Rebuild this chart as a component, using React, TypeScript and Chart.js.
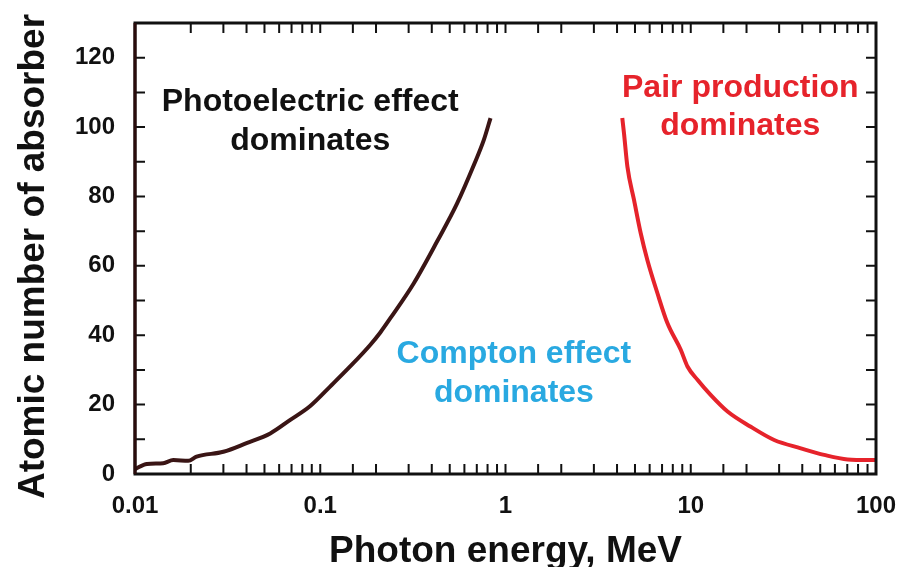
import React, { useEffect, useRef } from "react";
import { Chart, registerables } from "chart.js";

Chart.register(...registerables);

// Photoelectric / Compton boundary (MeV, Z)
const photoEnergy = [0.01, 0.0116, 0.0142, 0.0161, 0.0194, 0.0215, 0.03, 0.04, 0.0537, 0.0689, 0.0883, 0.113, 0.145, 0.186, 0.211, 0.239, 0.32, 0.427, 0.548, 0.674, 0.764, 0.83];
const photoZ = [1.4, 2.9, 3.1, 4.0, 3.8, 5.0, 6.4, 8.9, 11.7, 15.6, 19.6, 25.2, 31, 37.2, 40.8, 44.9, 55, 67, 78, 89, 96.3, 102.6];

// Compton / pair production boundary (MeV, Z)
const pairEnergy = [4.27, 4.36, 4.55, 4.94, 5.37, 5.83, 6.61, 7.48, 8.83, 9.6, 10.9, 12.8, 15.8, 21.1, 28.2, 39.3, 52.5, 70.3, 100];
const pairZ = [102.6, 98.3, 88.6, 79, 69.4, 61.7, 52.1, 43.5, 35.8, 31, 27.1, 22.8, 18, 13.6, 9.8, 7.4, 5.5, 4.2, 4.0];

const xTickValues = [0.01, 0.1, 1, 10, 100];
const yTickLabels = [0, 20, 40, 60, 80, 100, 120];
const yTitle = "Atomic number of absorber";

// Region labels: [line1, line2], anchored at (energy, Z) of each baseline
const labelLines = [
  ["Photoelectric effect", "dominates"],
  ["Compton effect", "dominates"],
  ["Pair production", "dominates"],
];
const labelEnergy = [0.0883, 1.11, 18.5];
const labelZ1 = [104.5, 32, 108.7];
const labelZ2 = [93.4, 20.8, 97.8];
const labelColors = ["#111111", "#29a9e1", "#e6232b"];

const FONT = '"Liberation Sans", Arial, Helvetica, sans-serif';

const framePlugin = {
  id: "frameTicks",
  afterDatasetsDraw(chart: any) {
    const { ctx, chartArea, scales } = chart;
    const xs = scales.x;
    const ys = scales.y;
    const { left, right, top, bottom } = chartArea;
    const tl = 10;
    ctx.save();
    ctx.strokeStyle = "#111";
    ctx.lineWidth = 2;
    ctx.beginPath();
    xs.ticks.forEach((t: any) => {
      const px = xs.getPixelForValue(t.value);
      if (px <= left + 1 || px >= right - 1) return;
      ctx.moveTo(px, bottom);
      ctx.lineTo(px, bottom - tl);
      ctx.moveTo(px, top);
      ctx.lineTo(px, top + tl);
    });
    ys.ticks.forEach((t: any) => {
      const py = ys.getPixelForValue(t.value);
      if (py >= bottom - 1 || py <= top + 1) return;
      ctx.moveTo(left, py);
      ctx.lineTo(left + tl, py);
      ctx.moveTo(right, py);
      ctx.lineTo(right - tl, py);
    });
    ctx.stroke();
    ctx.lineWidth = 3;
    ctx.strokeStyle = "#111";
    ctx.strokeRect(left, top, right - left, bottom - top);
    ctx.strokeStyle = "#2a0c0c";
    ctx.beginPath();
    ctx.moveTo(left, top);
    ctx.lineTo(left, bottom);
    ctx.stroke();

    ctx.font = `bold 32px ${FONT}`;
    ctx.textAlign = "center";
    ctx.textBaseline = "alphabetic";
    labelLines.forEach((lines, i) => {
      ctx.fillStyle = labelColors[i];
      const x = xs.getPixelForValue(labelEnergy[i]);
      ctx.fillText(lines[0], x, ys.getPixelForValue(labelZ1[i]));
      ctx.fillText(lines[1], x, ys.getPixelForValue(labelZ2[i]));
    });

    // y-axis title
    ctx.save();
    ctx.translate(44, (top + bottom) / 2 + 8);
    ctx.rotate(-Math.PI / 2);
    ctx.font = `bold 37px ${FONT}`;
    ctx.fillStyle = "#111";
    ctx.textAlign = "center";
    ctx.textBaseline = "alphabetic";
    ctx.fillText(yTitle, 0, 0);
    ctx.restore();
    ctx.restore();
  },
};

export default function App() {
  const ref = useRef<HTMLCanvasElement>(null);
  useEffect(() => {
    if (!ref.current) return;
    const chart = new Chart(ref.current, {
      type: "line",
      data: {
        datasets: [
          {
            label: "Photoelectric",
            data: photoEnergy.map((e, i) => ({ x: e, y: photoZ[i] })),
            borderColor: "#3a1515",
            borderWidth: 4,
            pointRadius: 0,
            cubicInterpolationMode: "monotone",
          },
          {
            label: "Pair",
            data: pairEnergy.map((e, i) => ({ x: e, y: pairZ[i] })),
            borderColor: "#e6232b",
            borderWidth: 4,
            pointRadius: 0,
            cubicInterpolationMode: "monotone",
          },
        ],
      },
      options: {
        animation: false,
        responsive: false,
        layout: { padding: { top: 23, right: 22, left: 0, bottom: 0 } },
        plugins: { legend: { display: false }, tooltip: { enabled: false } },
        scales: {
          x: {
            type: "logarithmic",
            min: 0.01,
            max: 100,
            grid: { display: false, drawTicks: true, tickLength: 18 },
            border: { display: false },
            afterFit: (s: any) => {
              s.height = 93;
            },
            ticks: {
              autoSkip: false,
              maxRotation: 0,
              padding: 0,
              color: "#111",
              font: { family: FONT, size: 24, weight: "bold" },
              callback: (v: any) => {
                const n = Number(v);
                const hit = xTickValues.find((t) => Math.abs(t - n) / t < 1e-6);
                return hit !== undefined ? String(hit) : "";
              },
            },
            title: {
              display: true,
              text: "Photon energy, MeV",
              color: "#111",
              font: { family: FONT, size: 37, weight: "bold", lineHeight: 1 },
              padding: { top: 0, bottom: -3 },
            },
          },
          y: {
            type: "linear",
            min: 0,
            max: 130,
            grid: { display: false, drawTicks: true, tickLength: 20 },
            border: { display: false },
            afterFit: (s: any) => {
              s.width = 135;
            },
            ticks: {
              stepSize: 10,
              autoSkip: false,
              padding: 0,
              color: "#111",
              font: { family: FONT, size: 24, weight: "bold" },
              callback: (v: any) => (yTickLabels.includes(Number(v)) ? String(v) : ""),
            },
          },
        },
      },
      plugins: [framePlugin],
    });
    return () => chart.destroy();
  }, []);
  return (
    <canvas
      ref={ref}
      width={898}
      height={567}
      style={{ position: "absolute", left: 0, top: 0, display: "block" }}
    />
  );
}
